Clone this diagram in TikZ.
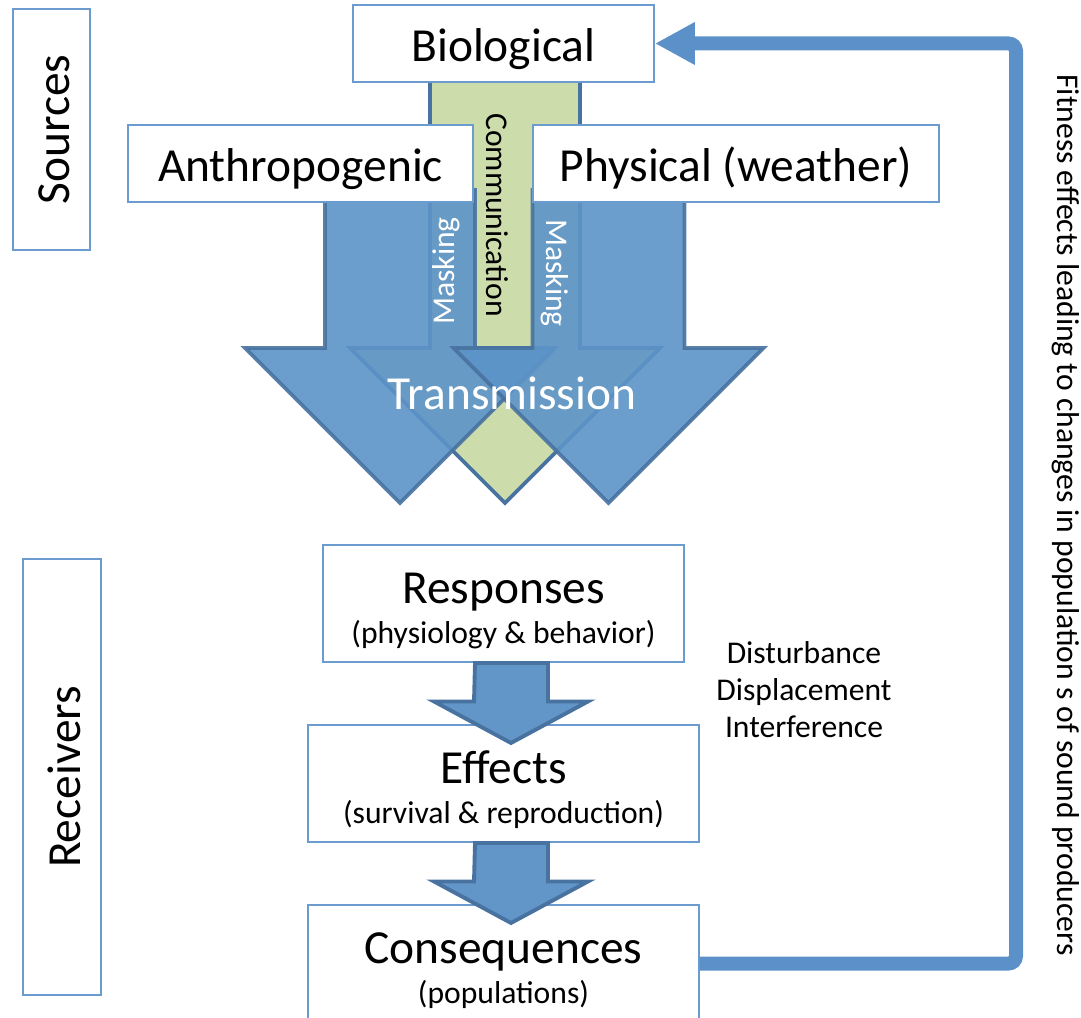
\documentclass[tikz,border=0pt]{standalone}
\usepackage{tikz}
\usetikzlibrary{arrows.meta, positioning, calc}
\usepackage{fontspec}
\setmainfont{Carlito}
\definecolor{boxblue}{RGB}{108,155,207}
\definecolor{arrowblue}{RGB}{92,148,200}
\definecolor{arrowedge}{RGB}{72,114,160}
\definecolor{commgreen}{RGB}{205,220,171}
\definecolor{stepblue}{RGB}{98,150,200}
\definecolor{loopblue}{RGB}{92,144,200}
\newcommand{\bigtxt}{\fontsize{27}{32}\selectfont}
\newcommand{\smalltxt}{\fontsize{18}{22.5}\selectfont}
\newcommand{\titletxt}{\bigtxt\rule{0pt}{0.95em}}

\begin{document}
\begin{tikzpicture}[
    box/.style={draw=boxblue, line width=1.1pt, fill=white, align=center, inner sep=2pt},
    onebox/.style={box, font=\bigtxt, text height=24pt, text depth=3pt},
    blockarrow/.style={draw=arrowedge, line width=2.2pt, fill=arrowblue, opacity=0.9},
    steparrow/.style={draw=arrowedge, line width=2.2pt, fill=stepblue},
    loopline/.style={draw=loopblue, line width=0.28cm, rounded corners=0.15cm, -{Triangle[length=0.8cm, width=0.8cm]}},
]
\useasboundingbox (0,0) rectangle (21.62,-20.36);

% communication arrow, under the two noise arrows
\draw[blockarrow, fill=commgreen, opacity=1] (8.6,-1.4) -- (11.6,-1.4) -- (11.6,-6.96) -- (13.2,-6.96) -- (10.1,-10.06) -- (7.0,-6.96) -- (8.6,-6.96) -- cycle;
\draw[blockarrow] (6.5,-3.8) -- (9.5,-3.8) -- (9.5,-6.96) -- (11.1,-6.96) -- (8.0,-10.06) -- (4.9,-6.96) -- (6.5,-6.96) -- cycle;
\draw[blockarrow] (10.65,-3.8) -- (13.69,-3.8) -- (13.69,-6.96) -- (15.27,-6.96) -- (12.17,-10.06) -- (9.07,-6.96) -- (10.65,-6.96) -- cycle;

% sources
\node[onebox, minimum width=6.02cm, minimum height=1.54cm] (bio) at (10.07,-0.87) {Biological};
\node[onebox, minimum width=6.9cm, minimum height=1.54cm] (anthro) at (6.01,-3.27) {Anthropogenic};
\node[onebox, minimum width=8.12cm, minimum height=1.54cm] (phys) at (14.72,-3.27) {Physical (weather)};
\node[onebox, rotate=90, minimum width=4.81cm, minimum height=1.54cm] (src) at (1.03,-2.59) {Sources};

\node[font=\smalltxt, rotate=-90] (comm) at (9.94,-4.3) {Communication};
\node[font=\smalltxt, text=white, rotate=90] (maskl) at (8.92,-5.42) {Masking};
\node[font=\smalltxt, text=white, rotate=-90] (maskr) at (11.1,-5.46) {Masking};
\node[font=\bigtxt, text=white] (trans) at (10.24,-7.86) {Transmission};

% receivers
\node[onebox, rotate=90, minimum width=8.72cm, minimum height=1.56cm] (rcv) at (1.24,-15.54) {Receivers};
\node[box, minimum width=7.22cm, minimum height=2.34cm, font=\smalltxt] (resp) at (10.07,-12.07) {{\titletxt Responses}\\(physiology \& behavior)};
\node[box, minimum width=7.82cm, minimum height=2.34cm, font=\smalltxt] (eff) at (10.07,-15.67) {{\titletxt Effects}\\(survival \& reproduction)};
\node[box, minimum width=7.82cm, minimum height=2.34cm, font=\smalltxt] (cons) at (10.07,-19.27) {{\titletxt Consequences}\\(populations)};

\foreach \from in {resp, eff}
    \draw[steparrow] ([xshift=-0.57cm]\from.south) -- ++(1.46,0) -- ++(0,-0.77) -- ++(0.8,0) -- ++(-1.54,-0.83) -- ++(-1.54,0.83) -- ++(0.8,0) -- cycle;

\node[font=\fontsize{18}{21}\selectfont, align=center] (impact) at (16.08,-13.8) {Disturbance\\Displacement\\Interference};

% feedback to the sound producers
\coordinate (turn) at (20.32,-0.87);
\draw[loopline] (cons.east) -| (turn) -- (bio.east);
\node[font=\smalltxt, rotate=-90] (fit) at (21.32,-10.3) {Fitness effects leading to changes in population s of sound producers};
\end{tikzpicture}
\end{document}
